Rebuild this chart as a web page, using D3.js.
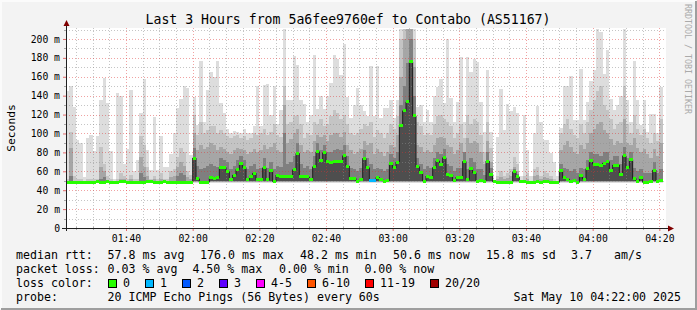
<!DOCTYPE html>
<html lang="en">
<head>
<meta charset="utf-8">
<title>Last 3 Hours from 5a6fee9760ef to Contabo</title>
<script src="https://d3js.org/d3.v7.min.js"></script>
<style>
  body { margin: 0; background: #f3f3f3; }
  svg { display: block; }
  text { font-family: "DejaVu Sans Mono", monospace; fill: #000; }
</style>
</head>
<body>
<script>
// one sample per minute, first one at 01:22 (UTC, as printed on the graph)
let start = new Date(Date.UTC(2025, 4, 10, 1, 22));

// median rtt in ms
let median = [
  48.3,48.3,48.3,48.3,48.3,48.3,48.3,48.3,48.3,49.2,
  48.3,48.3,49.2,48.3,48.3,48.3,49.2,49.2,48.3,48.3,
  48.3,48.3,48.3,48.3,49.2,49.2,48.3,48.3,48.3,49.2,
  48.3,48.3,48.3,48.3,48.3,48.3,48.3,48.3,
  74,52,48.5,48.5,48.5,53,52,53,64,64,
  59.5,51,56,62,68.6,64,51,54.6,58,51,
  51,63.7,51,61,49,56,55,55,55,55,
  61.6,79,55,54,54,51.8,64.8,80.6,71.8,79.6,
  70,69.4,70,70.8,70.8,76.4,65.5,52.5,52.5,49.7,
  51.4,73.6,63.7,50.3,50.3,53.5,51.4,49.7,50,68,
  63.7,69.7,108.8,124,133.4,175.7,118.7,64.8,58.5,49.7,
  55,53.2,64,71,67.6,74.3,57,56,50,53.9,
  53.9,70.4,51.4,63,58.5,49.7,50.5,49.7,70.8,57,
  49,48.3,48.3,48.3,48.3,48.3,59.5,54,49,49,
  48.3,48.3,48.3,48.8,48.3,49.5,49.5,48.3,48.3,48.3,
  60.6,53.2,51.8,49,50,48.3,55.3,51.8,63,71.1,
  67.6,67.3,66,68.7,70,60.6,66.6,66.6,57,76.4,
  63.7,72.2,52.5,49.7,53.2,48.3,48.3,49.7,61.3,49.7,50.7
];

// smoke: slowest ping and a few inner ping ranks (ms)
let pingMax = [
  145,150,128,93,90,54,95,98,81,97,
  135,159,132,81,52,143,140,68,84,146,
  60,72,122,158,83,61,117,61,97,65,
  65,78,100,127,137,150,148,77,
  139,109,177,112,146,165,160,177,132,122,
  105,100,103,102,100,105,100,100,108,150,
  108,151,152,120,150,110,125,211,135,135,
  182,172,135,131,112,120,183,126,140,126,
  140,153,183,179,162,195,139,116,130,148,
  130,124,119,171,119,171,116,127,127,135,
  116,135,211,211,211,211,211,128,130,112,
  125,112,140,149,158,132,200,138,112,133,
  181,112,181,165,179,176,133,102,167,102,
  50,96.5,147,103.5,131,123.6,128,122,55,120,
  82,55,100,129,112,93,93,79,70,55,
  106,150,150,161,114,114,168,114,133,156,
  167,211,207,163,188,137,125,130,140,211,
  135,112,177,135,109,135,102,121,121,100,149
];
let ping90 = [
  52,102,55,52,52,50,52,52,52,52,
  86,68,55,52,50,52,58,55,52,56,
  52,52,97,88,65,52,55,52,58,52,
  52,60,62,75,85,80,60,56,
  120,98,112,100,104,108,108,100,104,100,
  97,95,97,98,95,97,93,95,100,98,
  100,105,98,102,110,98,96,150,110,112,
  118,120,110,95,100,98,112,110,115,108,
  110,118,125,122,115,120,110,100,98,100,
  105,110,108,112,96,104,100,95,100,110,
  105,118,200,211,211,211,200,112,108,98,
  100,98,110,118,120,115,112,108,95,100,
  110,95,120,110,115,112,98,80,112,85,
  50,55,60,55,58,62,75,68,50,55,
  58,50,62,65,55,60,58,55,52,50,
  100,110,115,105,98,95,110,100,112,125,
  135,145,150,130,125,115,105,110,112,150,
  110,100,120,105,98,105,95,90,100,92,115
];
let ping75 = [
  50,85,50,50,50,49,50,50,50,50,
  65,60,50,50,49,50,52,52,50,52,
  50,50,75,65,55,50,52,50,52,50,
  50,54,55,65,70,66,54,52,
  100,82,88,84,86,90,88,82,86,84,
  80,78,82,85,84,82,78,80,84,80,
  82,88,84,86,90,82,80,130,90,94,
  100,105,88,80,82,80,92,98,96,98,
  92,98,100,100,96,102,88,82,78,80,
  84,92,88,90,78,84,80,76,80,88,
  86,98,160,200,211,211,170,88,86,80,
  82,80,88,95,96,95,88,86,78,82,
  90,80,95,90,92,90,80,68,92,70,
  49,52,54,52,53,55,65,60,49,50,
  52,49,55,56,52,54,53,52,50,49,
  82,88,92,86,80,78,88,84,90,100,
  105,110,112,104,100,94,88,92,90,115,
  90,88,95,85,80,84,78,74,84,76,90
];
let ping60 = [
  49,55,49,49,49,48.5,49,49,49,49.5,
  52,54,49.5,49,48.5,49,49.5,49.5,49,49,
  49,49,58,54,50,49.5,49,49,49,49.5,
  49,50,50,55,58,56,50,49,
  85,66,62,64,66,68,66,65,74,72,
  70,62,66,72,76,72,62,66,68,62,
  64,74,64,70,62,66,65,100,68,70,
  76,90,68,64,66,62,76,90,82,88,
  80,80,82,84,82,88,76,64,62,60,
  64,82,74,68,62,64,62,60,62,78,
  74,80,130,150,175,200,140,74,68,62,
  66,64,74,80,78,84,68,66,60,64,
  64,80,62,74,70,62,62,56,80,64,
  49,49,50,49,50,50,62,57,49,49,
  49,48.5,49,50,49,50.5,50.5,49,49,48.5,
  68,64,62,60,62,58,64,62,72,80,
  78,78,76,80,80,72,76,76,68,86,
  74,80,64,60,62,58,58,58,70,58,62
];

// minutes that lost pings, and how many
let lossMinutes = [91, 92];
let lossPings = [1, 1];

let lossLabels = ["0", "1", "2", "3", "4-5", "6-10", "11-19", "20/20"];
let lossColors = ["#26ff00", "#00b8ff", "#0059ff", "#5e00ff", "#ff00ff", "#ff5500", "#ff0000", "#a00000"];

let w = 697, h = 310;
let plotL = 66, plotR = 666, plotT = 28, plotB = 228;
let n = median.length;
let tAt = i => d3.utcMinute.offset(start, i);
let end = tAt(180);

let x = d3.scaleUtc().domain([start, end]).range([plotL, plotR]);
let y = d3.scaleLinear().domain([0, 211.6]).range([plotB, plotT]).clamp(true);

let svg = d3.select("body").append("svg").attr("width", w).attr("height", h);

// background + 3d frame
svg.append("rect").attr("width", w).attr("height", h).attr("fill", "#f3f3f3");
svg.append("path").attr("d", "M1," + (h - 1) + "V1H" + (w - 1))
  .attr("fill", "none").attr("stroke", "#fbfbfb").attr("stroke-width", 2);
svg.append("path").attr("d", "M1," + (h - 1) + "H" + (w - 1) + "V1")
  .attr("fill", "none").attr("stroke", "#9e9e9e").attr("stroke-width", 2);

svg.append("rect").attr("x", plotL).attr("y", plotT)
  .attr("width", plotR - plotL).attr("height", plotB - plotT).attr("fill", "#fff");

// smoke bands, outermost ping pair lightest
let steps = d3.range(n + 1);
let layers = [
  { vals: pingMax, floor: 48.0, color: "#dddddd" },
  { vals: ping90, floor: 48.4, color: "#c4c4c4" },
  { vals: ping75, floor: 48.8, color: "#a6a6a6" },
  { vals: ping60, floor: 49.3, color: "#7f7f7f" },
  { vals: median, floor: 49.8, color: "#4e4e4e" }
];
layers.forEach(function(l) {
  let area = d3.area()
    .curve(d3.curveStepAfter)
    .x(i => x(tAt(i)))
    .y0(y(l.floor))
    .y1(i => y(Math.max(l.floor, l.vals[Math.min(i, n - 1)])));
  svg.append("path").attr("d", area(steps))
    .attr("fill", l.color).attr("shape-rendering", "crispEdges");
});

// grid
let grid = svg.append("g").attr("fill", "none").attr("stroke-width", 1);
let minorT = d3.utcMinute.every(5).range(start, end).filter(t => t > start);
minorT.forEach(function(t) {
  let major = t.getUTCMinutes() % 20 === 0;
  let xx = Math.round(x(t)) + 0.5;
  grid.append("line").attr("x1", xx).attr("x2", xx).attr("y1", plotT).attr("y2", plotB)
    .attr("stroke", major ? "rgba(222,48,48,0.45)" : "rgba(140,140,140,0.5)")
    .attr("stroke-dasharray", "1,2");
});
d3.range(10, 211, 10).forEach(function(v) {
  let major = v % 20 === 0;
  let yy = Math.round(y(v)) + 0.5;
  grid.append("line").attr("x1", plotL).attr("x2", plotR).attr("y1", yy).attr("y2", yy)
    .attr("stroke", major ? "rgba(222,48,48,0.45)" : "rgba(140,140,140,0.5)")
    .attr("stroke-dasharray", "1,2");
});

// median: thin dark step line + loss coloured segments
let medLine = d3.line().curve(d3.curveStepAfter)
  .x(i => x(tAt(i)))
  .y(i => y(median[Math.min(i, n - 1)]));
svg.append("path").attr("d", medLine(steps))
  .attr("fill", "none").attr("stroke", "#1e1e1e").attr("stroke-width", 1);

let lossOf = i => {
  let k = lossMinutes.indexOf(i);
  return k < 0 ? 0 : lossPings[k];
};
let lossIndex = p => p === 0 ? 0 : p <= 3 ? p : p <= 5 ? 4 : p <= 10 ? 5 : p < 20 ? 6 : 7;

svg.append("g").selectAll("rect")
  .data(median)
  .join("rect")
  .attr("x", (d, i) => x(tAt(i)))
  .attr("width", (d, i) => x(tAt(i + 1)) - x(tAt(i)))
  .attr("y", d => y(d) - 1.5)
  .attr("height", 3)
  .attr("fill", (d, i) => lossColors[lossIndex(lossOf(i))])
  .attr("shape-rendering", "crispEdges");

// axes
let xAxis = d3.axisBottom(x)
  .ticks(d3.utcMinute.every(20))
  .tickFormat(d3.utcFormat("%H:%M"))
  .tickSize(3)
  .tickPadding(4);
let gx = svg.append("g").attr("transform", "translate(0," + plotB + ")").call(xAxis);
gx.select(".domain").remove();
gx.selectAll(".tick line").attr("stroke", "rgba(222,48,48,0.7)");
gx.selectAll(".tick text").attr("font-family", "DejaVu Sans Mono").attr("font-size", 9.75);

let yAxis = d3.axisLeft(y)
  .tickValues(d3.range(0, 201, 20))
  .tickFormat(d => d === 0 ? "0" : d + " m")
  .tickSize(3)
  .tickPadding(3);
let gy = svg.append("g").attr("transform", "translate(" + plotL + ",0)").call(yAxis);
gy.select(".domain").remove();
gy.selectAll(".tick line").attr("stroke", "rgba(222,48,48,0.7)");
gy.selectAll(".tick text").attr("font-family", "DejaVu Sans Mono").attr("font-size", 9.75);

// minor ticks on the axes
minorT.filter(t => t.getUTCMinutes() % 20 !== 0).forEach(function(t) {
  let xx = Math.round(x(t)) + 0.5;
  svg.append("line").attr("x1", xx).attr("x2", xx).attr("y1", plotB - 1).attr("y2", plotB + 2)
    .attr("stroke", "#a8a8a8");
});
d3.range(10, 211, 20).forEach(function(v) {
  let yy = Math.round(y(v)) + 0.5;
  svg.append("line").attr("x1", plotL - 2).attr("x2", plotL + 1).attr("y1", yy).attr("y2", yy)
    .attr("stroke", "#a8a8a8");
});

// axis lines and arrows
svg.append("line").attr("x1", plotL - 4).attr("x2", plotR + 3)
  .attr("y1", plotB + 0.5).attr("y2", plotB + 0.5).attr("stroke", "#202020");
svg.append("line").attr("x1", plotL + 0.5).attr("x2", plotL + 0.5)
  .attr("y1", plotB + 3).attr("y2", plotT - 3).attr("stroke", "#202020");
svg.append("path").attr("d", "M" + (plotR + 2) + "," + (plotB - 2.5) + "L" + (plotR + 8) + "," + (plotB + 0.5) + "L" + (plotR + 2) + "," + (plotB + 3.5) + "Z")
  .attr("fill", "#800000");
svg.append("path").attr("d", "M" + (plotL - 2.5) + "," + (plotT - 2) + "L" + (plotL + 0.5) + "," + (plotT - 8) + "L" + (plotL + 3.5) + "," + (plotT - 2) + "Z")
  .attr("fill", "#800000");

// title, unit, watermark
svg.append("text").attr("x", 348).attr("y", 19).attr("text-anchor", "middle")
  .attr("dominant-baseline", "central").attr("font-size", 13.2)
  .text("Last 3 Hours from 5a6fee9760ef to Contabo (AS51167)");
svg.append("text").attr("transform", "translate(11,128) rotate(-90)")
  .attr("text-anchor", "middle").attr("dominant-baseline", "central").attr("font-size", 11.3)
  .text("Seconds");
svg.append("text").attr("transform", "translate(688,4) rotate(90)")
  .attr("dominant-baseline", "central").attr("font-size", 8.3).style("fill", "#aaaaaa")
  .text("RRDTOOL / TOBI OETIKER");

// legend
let legendRows = [
  [[16, "median rtt:"], [107.6, "57.8 ms avg"], [200, "176.0 ms max"], [300, "48.2 ms min"],
   [393, "50.6 ms now"], [486, "15.8 ms sd"], [571, "3.7"], [614, "am/s"]],
  [[16, "packet loss:"], [107.6, "0.03 % avg"], [192.4, "4.50 % max"], [279, "0.00 % min"], [364.4, "0.00 % now"]],
  [[16, "loss color:"]],
  [[16, "probe:"], [107.6, "20 ICMP Echo Pings (56 Bytes) every 60s"]]
];
let legend = svg.append("g").attr("font-size", 11.6);
legendRows.forEach(function(row, r) {
  row.forEach(function(c) {
    legend.append("text").attr("x", c[0]).attr("y", 255 + r * 14)
      .attr("dominant-baseline", "central").attr("xml:space", "preserve").text(c[1]);
  });
});
legend.append("text").attr("x", 681).attr("y", 255 + 3 * 14).attr("text-anchor", "end")
  .attr("dominant-baseline", "central").text("Sat May 10 04:22:00 2025");

let swatchX = [108, 145, 182, 219, 256, 307, 365, 430];
lossLabels.forEach(function(lbl, k) {
  legend.append("rect").attr("x", swatchX[k] + 0.5).attr("y", 279.5)
    .attr("width", 8).attr("height", 8)
    .attr("fill", lossColors[k]).attr("stroke", "#000").attr("stroke-width", 1);
  legend.append("text").attr("x", swatchX[k] + 15).attr("y", 283)
    .attr("dominant-baseline", "central").text(lbl);
});
</script>
</body>
</html>
